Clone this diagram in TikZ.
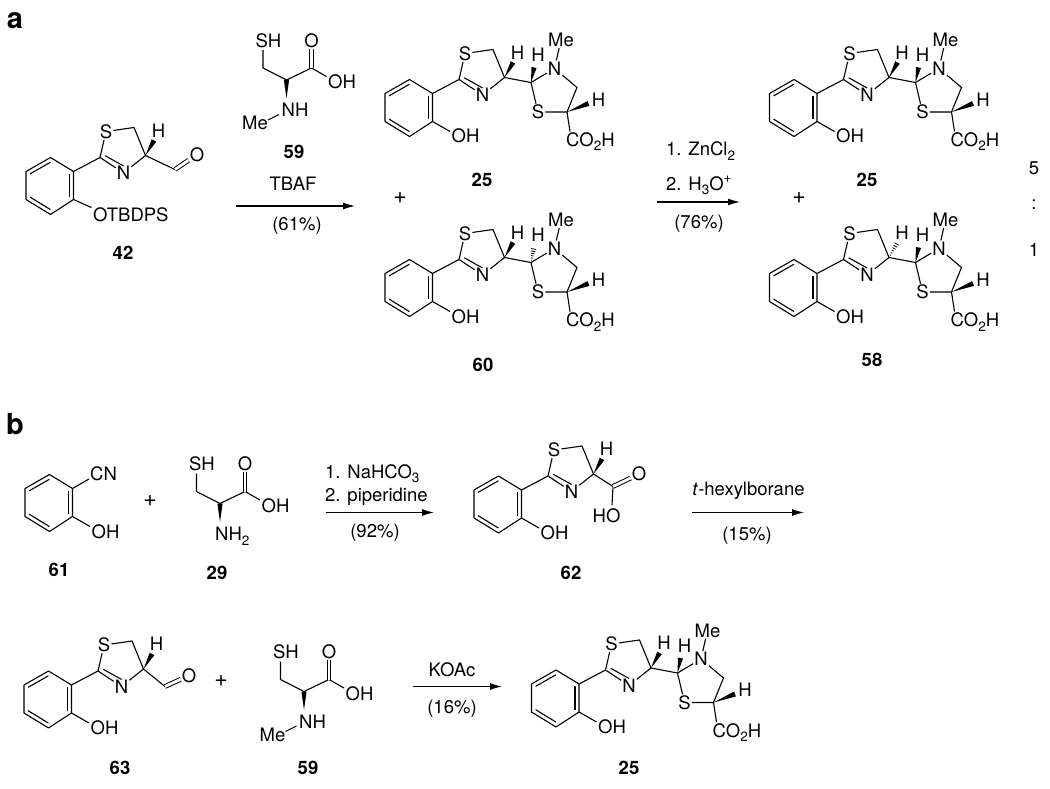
\documentclass[tikz,border=0pt]{standalone}
\usepackage{fontspec}
\setmainfont{TeX Gyre Heros}
\usetikzlibrary{calc,arrows.meta}
\newcommand{\chemfont}{\fontsize{18.5}{22}\selectfont}
\newcommand{\lowtxt}[1]{\raisebox{-4.5pt}{\fontsize{13.5}{14}\selectfont #1}}
\newcommand{\hightxt}[1]{\raisebox{7.5pt}{\fontsize{13.5}{14}\selectfont #1}}
\tikzset{
  bond/.style={line width=1.1pt},
  dbl/.style={double,double distance=2.8pt,line width=1pt},
  atom/.style={inner sep=1pt},
  grp/.style={inner sep=0pt,anchor=base west},
  cmpd/.style={font=\chemfont\bfseries},
  plussign/.style={font=\fontsize{23}{24}\selectfont},
  rxn/.style={line width=1.1pt,-{Latex[length=12pt,width=7pt]}}
}
% stereo bonds, narrow at the first point
\newcommand{\wedgeb}[2]{\fill ($(#1)$) -- ($(#2)!2.6pt!90:(#1)$) -- ($(#2)!2.6pt!-90:(#1)$) -- cycle;}
\newcommand{\hashb}[2]{\foreach \t [evaluate=\t as \w using \t*2.8] in {.15,.3,...,1.01}
    \draw[line width=.8pt] ($(#1)!\t!(#2)!\w pt!90:(#2)$) -- ($(#1)!\t!(#2)!\w pt!-90:(#2)$);}
% phenol ring, r1 is the origin of the scope
\newcommand{\phenring}{
  \coordinate (r1) at (0,0);
  \coordinate (r2) at (0,28);
  \coordinate (r3) at (-23,43);
  \coordinate (r4) at (-47.5,28);
  \coordinate (r5) at (-47.5,0);
  \coordinate (r6) at (-23,-14);
  \coordinate (rc) at (-23.5,14);
  \draw[bond,line join=round] (r1) -- (r2) -- (r3) -- (r4) -- (r5) -- (r6) -- cycle;
  \draw[bond] ($(r1)!.17!(rc)$) -- ($(r2)!.17!(rc)$);
  \draw[bond] ($(r3)!.17!(rc)$) -- ($(r4)!.17!(rc)$);
  \draw[bond] ($(r5)!.17!(rc)$) -- ($(r6)!.17!(rc)$);
}
\newcommand{\phenoh}{
  \phenring
  \node[grp] (oh) at (19,49.5) {OH};
  \coordinate (ohb) at (17.5,38);
  \draw[bond] (r2) -- (ohb);
}
% thiazoline, #1 is the kind of stereo bond at c4
\newcommand{\thiazoline}[1]{
  \coordinate (c2) at (26.5,-14);
  \coordinate (c5) at (60.5,-44);
  \coordinate (c4) at (72,-16);
  \coordinate (tc) at (50,-22);
  \node[atom] (s1) at (32.5,-40) {S};
  \node[atom] (n1) at (50,1.5) {N};
  \node[atom] (h1) at (85,-41) {H};
  \coordinate (h1b) at (80.5,-31);
  \draw[bond] (r1) -- (c2) -- (s1) -- (c5) -- (c4) -- (n1) -- (c2);
  \draw[bond] ($(c2)!.22!(tc)$) -- ($(n1)!.3!(tc)$);
  #1{c4}{h1b}
}
% thiazolidine with acid, #1 is the kind of stereo bond at c2'
\newcommand{\thiazolidine}[1]{
  \coordinate (d2) at (98.5,-11);
  \coordinate (d5) at (144.5,-6);
  \coordinate (d4) at (134.5,18.5);
  \node[atom] (s2) at (105.5,18.5) {S};
  \node[atom] (n2) at (122,-25) {N};
  \node[atom] (me) at (128.5,-53.5) {Me};
  \node[atom] (h2) at (105.5,-38.5) {H};
  \node[atom] (h3) at (166,6) {H};
  \node[grp] (co2h) at (133.5,53) {CO\lowtxt{2}H};
  \coordinate (h2b) at (101.5,-26);
  \coordinate (h3b) at (156,10);
  \coordinate (cob) at (137.5,38);
  \draw[bond] (c4) -- (d2) -- (n2) -- (d5) -- (d4) -- (s2) -- (d2);
  \draw[bond] (n2) -- (me);
  \draw[bond] (d4) -- (cob);
  #1{d2}{h2b}
  \wedgeb{d4}{h3b}
}
% amino acid core, alpha carbon is the origin of the scope
\newcommand{\aminoacid}{
  \coordinate (ca) at (0,0);
  \coordinate (cb) at (-23.5,-12);
  \coordinate (cc) at (25,-12);
  \coordinate (nb) at (0,18.5);
  \coordinate (ohb) at (40,-3.5);
  \node[atom] (sh) at (-18,-39.5) {SH};
  \node[atom] (ox) at (25,-39.5) {O};
  \node[grp] (oh) at (41.5,9) {OH};
  \coordinate (shb) at (-23.5,-30);
  \draw[bond] (shb) -- (cb) -- (ca) -- (cc) -- (ohb);
  \draw[dbl] (cc) -- (ox);
  \wedgeb{nb}{ca}
}
\newcommand{\nhme}{
  \node[grp] (nh) at (-5,37) {NH};
  \node[grp] (me) at (-44.5,50) {Me};
  \coordinate (meb1) at (-18.5,40);
  \coordinate (meb2) at (-7.5,34.5);
  \draw[bond] (meb1) -- (meb2);
}
\begin{document}
\begin{tikzpicture}[x=1pt,y=-1pt,every node/.style={font=\chemfont}]
  \useasboundingbox (0,0) rectangle (1050,789);
  % Part a
  \node[font=\fontsize{29}{30}\selectfont\bfseries] (parta) at (15,21) {a};
  \begin{scope}[shift={(73.5,171.5)},name prefix=m42-]
    \phenring
    \node[grp] (otb) at (19.5,49.5) {OTBDPS};
    \coordinate (otbb) at (18,36);
    \draw[bond] (r2) -- (otbb);
    \thiazoline{\wedgeb}
    \coordinate (cho) at (101.5,-2);
    \node[atom] (ox) at (123.5,-17) {O};
    \draw[bond] (c4) -- (cho);
    \draw[dbl] (cho) -- (ox);
  \end{scope}
  \begin{scope}[shift={(286.5,80)},name prefix=m59a-]
    \aminoacid
    \nhme
  \end{scope}
  \begin{scope}[shift={(432.5,93.5)},name prefix=m25a-]
    \phenoh
    \thiazoline{\wedgeb}
    \thiazolidine{\wedgeb}
  \end{scope}
  \begin{scope}[shift={(432.5,273.5)},name prefix=m60-]
    \phenoh
    \thiazoline{\wedgeb}
    \thiazolidine{\hashb}
  \end{scope}
  \begin{scope}[shift={(817,93.5)},name prefix=m25b-]
    \phenoh
    \thiazoline{\wedgeb}
    \thiazolidine{\wedgeb}
  \end{scope}
  \begin{scope}[shift={(817,273.5)},name prefix=m58-]
    \phenoh
    \thiazoline{\hashb}
    \thiazolidine{\wedgeb}
  \end{scope}
  % Labels of part a
  \node[cmpd] (l42) at (123,253) {42};
  \node[cmpd] (l59a) at (294,152) {59};
  \node[cmpd] (l25a) at (482,180) {25};
  \node[cmpd] (l60) at (483,365) {60};
  \node[cmpd] (l25b) at (867,180) {25};
  \node[cmpd] (l58) at (872,360) {58};
  \node[plussign] (pa1) at (400,198) {+};
  \node[plussign] (pa2) at (799,198) {+};
  \node (r5) at (1034,168) {5};
  \node (rc) at (1034,205) {:};
  \node (r1) at (1034,250) {1};
  % Arrows of part a
  \coordinate (a1s) at (236,206);
  \coordinate (a1e) at (355,206);
  \draw[rxn] (a1s) -- (a1e);
  \node (tbaf) at (293,184) {TBAF};
  \node (y61) at (297,226) {(61\%)};
  \coordinate (a2s) at (657,202);
  \coordinate (a2e) at (740,202);
  \draw[rxn] (a2s) -- (a2e);
  \node[grp] (zn) at (666,156) {1. ZnCl\lowtxt{2}};
  \node[grp] (h3o) at (666,190) {2. H\lowtxt{3}O\hightxt{+}};
  \node (y76) at (699,224) {(76\%)};
  % Part b
  \node[font=\fontsize{29}{30}\selectfont\bfseries] (partb) at (15,424) {b};
  \begin{scope}[shift={(72.5,488.5)},name prefix=m61-]
    \phenoh
    \node[grp] (cn) at (17.5,-8) {CN};
    \coordinate (cnb) at (16.5,-9.5);
    \draw[bond] (r1) -- (cnb);
  \end{scope}
  \begin{scope}[shift={(220,503.5)},name prefix=m29-]
    \aminoacid
    \node[grp] (nh2) at (-5,37) {NH\lowtxt{2}};
  \end{scope}
  \begin{scope}[shift={(521.5,490)},name prefix=m62-]
    \phenoh
    \thiazoline{\wedgeb}
    \coordinate (cc) at (91.5,-3.5);
    \node[atom] (ox) at (117.5,-16) {O};
    \node[grp] (hox) at (71,32.5) {HO};
    \coordinate (hob) at (90.5,15);
    \draw[bond] (c4) -- (cc) -- (hob);
    \draw[dbl] (cc) -- (ox);
  \end{scope}
  \begin{scope}[shift={(71.5,685)},name prefix=m63-]
    \phenoh
    \thiazoline{\wedgeb}
    \coordinate (cho) at (93.5,1.5);
    \node[atom] (ox) at (117.5,-9.5) {O};
    \draw[bond] (c4) -- (cho);
    \draw[dbl] (cho) -- (ox);
  \end{scope}
  \begin{scope}[shift={(304,691.5)},name prefix=m59b-]
    \aminoacid
    \nhme
  \end{scope}
  \begin{scope}[shift={(579,684)},name prefix=m25c-]
    \phenoh
    \thiazoline{\wedgeb}
    \thiazolidine{\wedgeb}
  \end{scope}
  % Labels of part b
  \node[cmpd] (l61) at (59,570) {61};
  \node[cmpd] (l29) at (217,573) {29};
  \node[cmpd] (l62) at (571,573) {62};
  \node[cmpd] (l63) at (120,768) {63};
  \node[cmpd] (l59b) at (308,768) {59};
  \node[cmpd] (l25c) at (629,768) {25};
  \node[plussign] (pb1) at (150,501) {+};
  \node[plussign] (pb2) at (221,681) {+};
  % Arrows of part b
  \coordinate (a3s) at (326,512.5);
  \coordinate (a3e) at (434,512.5);
  \draw[rxn] (a3s) -- (a3e);
  \node[grp] (nahco) at (325,478) {1. NaHCO\lowtxt{3}};
  \node[grp] (pip) at (325,501) {2. piperidine};
  \node (y92) at (375,533) {(92\%)};
  \coordinate (a4s) at (692,512.5);
  \coordinate (a4e) at (804,512.5);
  \draw[rxn] (a4s) -- (a4e);
  \node (hexb) at (748.5,491) {\textit{t}-hexylborane};
  \node (y15) at (747,535.5) {(15\%)};
  \coordinate (a5s) at (413,686.5);
  \coordinate (a5e) at (502,686.5);
  \draw[rxn] (a5s) -- (a5e);
  \node (koac) at (452,670) {KOAc};
  \node (y16) at (452,709) {(16\%)};
\end{tikzpicture}
\end{document}
